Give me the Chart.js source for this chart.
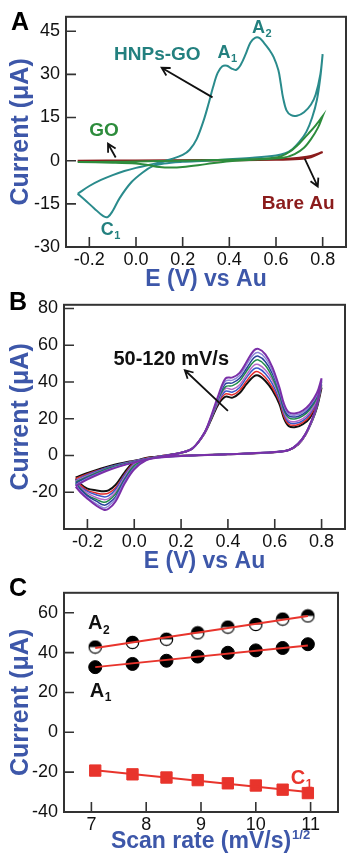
<!DOCTYPE html>
<html>
<head>
<meta charset="utf-8">
<script src="https://cdn.jsdelivr.net/npm/chart.js@4.4.1/dist/chart.umd.min.js"></script>
<style>
  body { margin: 0; background: #fff; width: 347px; height: 862px; position: relative; overflow: hidden; }
  canvas { position: absolute; left: 0; }
  .tag { position: absolute; font: bold 25px "Liberation Sans", Arial, sans-serif; line-height: 25px; color: #000; }
</style>
</head>
<body>
<canvas id="chartA" width="347" height="296" style="top:0px"></canvas>
<canvas id="chartB" width="347" height="290" style="top:288px"></canvas>
<canvas id="chartC" width="347" height="286" style="top:576px"></canvas>
<div class="tag" style="left:11px;top:9px">A</div>
<div class="tag" style="left:9px;top:289px">B</div>
<div class="tag" style="left:9px;top:575px">C</div>
<script>
// ---- Panel A : CV of bare Au, GO and HNPs-GO ----
const hnpsFwdPot = [-0.25, -0.2, -0.15, -0.1, -0.05, 0.0, 0.05, 0.1, 0.15, 0.2, 0.23, 0.26, 0.29, 0.31, 0.33, 0.35, 0.37, 0.39, 0.41, 0.43, 0.45, 0.47, 0.49, 0.51, 0.53, 0.55, 0.57, 0.59, 0.61, 0.62, 0.63, 0.645, 0.665, 0.69, 0.72, 0.75, 0.77, 0.79, 0.8];
const hnpsFwdCur = [-11.5, -8.8, -6.7, -5.0, -3.6, -2.5, -1.6, -0.6, 0.5, 2.0, 3.8, 7.5, 14, 19.5, 25.5, 30.5, 32.8, 33, 32, 31.6, 33.5, 37, 41, 42.7, 42.6, 40.8, 38.7, 36, 31.5, 27, 22, 17.5, 15.8, 15.6, 16.8, 19.5, 23, 30, 37];
const hnpsRevPot = [0.8, 0.79, 0.775, 0.755, 0.73, 0.70, 0.67, 0.64, 0.6, 0.5, 0.4, 0.3, 0.2, 0.12, 0.07, 0.03, -0.02, -0.07, -0.1, -0.12, -0.14, -0.18, -0.22, -0.25];
const hnpsRevCur = [37, 29, 21, 15, 10, 6.5, 4, 2.6, 1.8, 1.0, 0.5, 0, -0.4, -1.0, -2, -4, -7.5, -13, -17.5, -19.5, -19.3, -16.5, -13.6, -11.5];

const goFwdPot = [-0.25, -0.1, 0.0, 0.2, 0.4, 0.55, 0.62, 0.66, 0.7, 0.74, 0.77, 0.8];
const goFwdCur = [-0.5, -0.4, -0.3, 0, 0.3, 0.7, 1.5, 3.2, 6, 9.5, 12.3, 15.5];
const goRevPot = [0.8, 0.78, 0.75, 0.72, 0.68, 0.63, 0.5, 0.4, 0.3, 0.2, 0.15, 0.1, 0.05, 0.0, -0.1, -0.25];
const goRevCur = [15.5, 11.5, 7.5, 4.5, 2.3, 1.0, 0.3, -0.2, -1.2, -2.2, -2.4, -2.2, -1.5, -1.0, -0.7, -0.5];

const auFwdPot = [-0.25, 0.0, 0.3, 0.55, 0.65, 0.7, 0.75, 0.8];
const auFwdCur = [0, 0.1, 0.2, 0.4, 0.7, 1.0, 1.6, 3.0];
const auRevPot = [0.8, 0.75, 0.7, 0.6, 0.3, -0.25];
const auRevCur = [3.0, 1.2, 0.6, 0.3, 0.1, 0];

const potTicks = [-0.2, 0.0, 0.2, 0.4, 0.6, 0.8];
const curTicksA = [-30, -15, 0, 15, 30, 45];

// ---- Panel B : HNPs-GO at 50-120 mV/s ----
const scanRates = [50, 60, 70, 80, 90, 100, 110, 120];
const potBFwd = [-0.25, -0.2, -0.1, 0.0, 0.1, 0.2, 0.25, 0.3, 0.33, 0.36, 0.39, 0.42, 0.45, 0.48, 0.51, 0.53, 0.56, 0.59, 0.62, 0.64, 0.66, 0.69, 0.72, 0.75, 0.78, 0.8];
const potBRev = [0.8, 0.78, 0.76, 0.73, 0.70, 0.66, 0.6, 0.4, 0.2, 0.1, 0.05, 0.0, -0.04, -0.08, -0.11, -0.13, -0.16, -0.2, -0.23, -0.25];

const cur50Fwd = [-12, -9.5, -5.5, -2.8, -0.5, 1.5, 4, 12, 20, 28, 32, 31.5, 34, 39, 43, 43.5, 40.5, 35.5, 28, 20, 16, 15.5, 17, 20.5, 28, 37];
const cur50Rev = [37, 26, 19, 11, 6, 3, 1.8, 0.7, -0.2, -0.8, -1.3, -3.5, -9, -16, -19, -19.5, -19, -18, -15.5, -12.5];
const cur60Fwd = [-12.5, -10, -6, -3, -0.5, 1.5, 4, 12, 20.5, 29, 33.5, 33, 35.5, 40.5, 45, 45.5, 42.5, 37, 29.5, 21, 17, 16.5, 18, 21.5, 29, 38];
const cur60Rev = [38, 26.5, 19, 11, 6, 3, 1.8, 0.7, -0.2, -0.9, -1.5, -4, -10, -17.5, -20.5, -21, -20.5, -19, -16, -13];
const cur70Fwd = [-13.5, -10.5, -6, -3, -0.6, 1.5, 4, 12, 20.5, 29.5, 35, 34.5, 37, 42.5, 47, 47.5, 44.5, 39, 30.5, 22.5, 18, 17.5, 19, 22.5, 30, 38.5];
const cur70Rev = [38.5, 26.5, 19, 11, 6, 3, 1.8, 0.7, -0.2, -0.9, -1.7, -4.5, -10.5, -18.5, -22, -22.5, -21.5, -19.5, -17, -13.5];
const cur80Fwd = [-14, -11, -6.5, -3.2, -0.7, 1.5, 4, 12, 21, 30, 36.5, 36, 38.5, 44, 49, 49.5, 46.5, 41, 32, 23.5, 19, 18.5, 20, 23.5, 30.5, 39];
const cur80Rev = [39, 27, 19, 11, 6, 3, 1.8, 0.7, -0.2, -1, -1.9, -5, -11.5, -20, -23.5, -24, -23, -20.5, -17.5, -14.5];
const cur90Fwd = [-14.5, -11.5, -6.5, -3.4, -0.8, 1.5, 4, 12.5, 21, 31, 37.5, 38, 40.5, 46, 51, 52, 49, 42.5, 33, 24.5, 20.5, 20, 21.5, 25, 31.5, 40];
const cur90Rev = [40, 27, 19.5, 11.5, 6.5, 3, 1.9, 0.7, -0.3, -1, -2.1, -5.5, -12.5, -21, -24.5, -25.5, -24, -21.5, -18, -15];
const cur100Fwd = [-15, -12, -7, -3.5, -0.9, 1.5, 4, 12.5, 21.5, 31.5, 39, 39.5, 42, 47.5, 53, 54, 51, 44.5, 34.5, 25.5, 21.5, 21, 22.5, 26, 32.5, 40.5];
const cur100Rev = [40.5, 27.5, 19.5, 11.5, 6.5, 3, 1.9, 0.7, -0.3, -1.1, -2.3, -6.5, -13, -22.5, -26, -27, -25, -22, -18.5, -15.5];
const cur110Fwd = [-16, -12.5, -7.2, -3.7, -1, 1.5, 4, 12.5, 21.5, 32, 40.5, 41, 43.5, 49.5, 55, 56, 53, 46, 35.5, 27, 22.5, 22, 23.5, 27, 33, 41];
const cur110Rev = [41, 28, 19.5, 11.5, 6.5, 3, 1.9, 0.7, -0.3, -1.2, -2.5, -7, -14, -23.5, -27.5, -28.5, -26.5, -23, -19.5, -16];
const cur120Fwd = [-16.5, -13, -7.5, -3.8, -1, 1.5, 4, 12.5, 22, 33, 42, 42.5, 45, 51, 57, 58, 55, 48, 37, 28, 23.5, 23, 24.5, 28, 34, 42];
const cur120Rev = [42, 28, 20, 11.5, 6.5, 3, 1.9, 0.7, -0.3, -1.2, -2.7, -7.5, -15, -25, -29, -29.5, -27.5, -23.5, -20, -17];

const curTicksB = [-20, 0, 20, 40, 60, 80];

// ---- Panel C : peak current vs sqrt(scan rate) ----
const rootRate = [7.07, 7.75, 8.37, 8.94, 9.49, 10.0, 10.49, 10.95];
const peakA2 = [42.8, 45.1, 46.7, 49.9, 52.8, 54.1, 56.8, 58.4];
const peakA1 = [32.7, 34.3, 35.9, 38.0, 39.9, 41.1, 42.3, 44.2];
const peakC1 = [-19.2, -21.1, -22.7, -24.0, -25.6, -26.7, -28.8, -30.5];
const fitRate = [7.07, 10.95];
const fitA2 = [42.3, 58.4];
const fitA1 = [32.7, 43.5];
const fitC1 = [-19.0, -30.0];

const rateTicks = [7, 8, 9, 10, 11];
const curTicksC = [-40, -20, 0, 20, 40, 60];

const FONT = '"Liberation Sans", Arial, Helvetica, sans-serif';
const AXIS_BLUE = '#3d57a9';
const TEAL = '#2a8b8c';

Chart.defaults.font.family = FONT;
Chart.defaults.color = '#111';

function toPoints(pots, curs) {
    return pots.map((p, i) => ({ x: p, y: curs[i] }));
}

function sweep(fwdPot, fwdCur, revPot, revCur) {
    return toPoints(fwdPot.concat(revPot), fwdCur.concat(revCur));
}

// cadre + graduations vers l'intérieur
const framePlugin = {
    id: 'frame',
    beforeDatasetsDraw(chart) {
        const { ctx, chartArea: a, scales } = chart;
        ctx.save();
        ctx.strokeStyle = '#333';
        ctx.lineWidth = 2;
        ctx.strokeRect(a.left, a.top, a.right - a.left, a.bottom - a.top);
        ctx.lineWidth = 1.6;
        ctx.beginPath();
        scales.x.ticks.forEach(t => {
            const px = scales.x.getPixelForValue(t.value);
            ctx.moveTo(px, a.bottom);
            ctx.lineTo(px, a.bottom - 10);
        });
        scales.y.ticks.forEach(t => {
            const py = scales.y.getPixelForValue(t.value);
            ctx.moveTo(a.left, py);
            ctx.lineTo(a.left + 10, py);
        });
        ctx.stroke();
        ctx.restore();
    }
};

// étiquettes, flèches et exposant du titre
const notesPlugin = {
    id: 'notes',
    afterDatasetsDraw(chart, args, opts) {
        const { ctx, scales: { x, y } } = chart;
        ctx.save();
        (opts.arrows || []).forEach(a => {
            const x1 = x.getPixelForValue(a.x1), y1 = y.getPixelForValue(a.y1);
            const x2 = x.getPixelForValue(a.x2), y2 = y.getPixelForValue(a.y2);
            const ang = Math.atan2(y2 - y1, x2 - x1);
            ctx.strokeStyle = '#111';
            ctx.lineWidth = 1.8;
            ctx.beginPath();
            ctx.moveTo(x1, y1);
            ctx.lineTo(x2, y2);
            ctx.moveTo(x2 - 9 * Math.cos(ang - 0.5), y2 - 9 * Math.sin(ang - 0.5));
            ctx.lineTo(x2, y2);
            ctx.lineTo(x2 - 9 * Math.cos(ang + 0.5), y2 - 9 * Math.sin(ang + 0.5));
            ctx.stroke();
        });
        (opts.labels || []).forEach(l => {
            const px = x.getPixelForValue(l.x), py = y.getPixelForValue(l.y);
            ctx.fillStyle = l.color;
            ctx.textAlign = 'left';
            ctx.textBaseline = 'middle';
            ctx.font = 'bold ' + l.size + 'px ' + FONT;
            ctx.fillText(l.text, px, py);
            if (l.sub) {
                const w = ctx.measureText(l.text).width;
                ctx.font = 'bold ' + Math.round(l.size * 0.62) + 'px ' + FONT;
                ctx.fillText(l.sub, px + w + 0.5, py + l.size * 0.34);
            }
        });
        if (opts.titleSup) {
            const t = x.options.title;
            ctx.font = 'bold 23px ' + FONT;
            const w = ctx.measureText(t.text).width;
            const cx = (x.left + x.right) / 2;
            const cy = x.bottom - opts.titlePad - 13.8;
            ctx.fillStyle = AXIS_BLUE;
            ctx.textAlign = 'left';
            ctx.textBaseline = 'middle';
            ctx.font = 'bold 13px ' + FONT;
            ctx.fillText(opts.titleSup, cx + w / 2 + 1, cy - 6);
        }
        ctx.restore();
    }
};

function buildScales(p) {
    return {
        x: {
            type: 'linear', min: p.xMin, max: p.xMax,
            afterBuildTicks: s => { s.ticks = p.xTicks.map(v => ({ value: v })); },
            afterFit: s => { s.height = p.xAxisH; },
            grid: { display: false, drawTicks: false },
            border: { display: false },
            ticks: { padding: 2, autoSkip: false, maxRotation: 0, font: { size: 18 }, color: '#111',
                     callback: v => v.toFixed(p.xDec) },
            title: { display: true, text: p.xTitle, color: AXIS_BLUE, font: { size: 23, weight: 'bold' },
                     padding: { top: 0, bottom: p.xTitlePad } }
        },
        y: {
            type: 'linear', min: p.yMin, max: p.yMax,
            afterBuildTicks: s => { s.ticks = p.yTicks.map(v => ({ value: v })); },
            afterFit: s => { s.width = p.plotLeft; },
            grid: { display: false, drawTicks: false },
            border: { display: false },
            ticks: { padding: 6, autoSkip: false, font: { size: 18 }, color: '#111', callback: v => String(v) },
            title: { display: true, text: 'Current (\u03BCA)', color: AXIS_BLUE, font: { size: 25, weight: 'bold' },
                     padding: { top: 6, bottom: 0 } }
        }
    };
}

function makeChart(id, datasets, scaleParams, padding, notes) {
    return new Chart(document.getElementById(id), {
        type: 'scatter',
        data: { datasets: datasets },
        options: {
            responsive: false,
            animation: false,
            devicePixelRatio: 1,
            layout: { padding: padding },
            scales: buildScales(scaleParams),
            plugins: { legend: { display: false }, tooltip: { enabled: false }, notes: notes }
        },
        plugins: [framePlugin, notesPlugin]
    });
}

function cvLine(points, color, width) {
    return { data: points, showLine: true, borderColor: color, borderWidth: width, pointRadius: 0, tension: 0.35, fill: false };
}

function halfFilledCircle() {
    const c = document.createElement('canvas');
    c.width = 15; c.height = 15;
    const g = c.getContext('2d');
    g.fillStyle = '#fff';
    g.beginPath(); g.arc(7.5, 7.5, 6.2, 0, 2 * Math.PI); g.fill();
    g.fillStyle = '#000';
    g.beginPath(); g.arc(7.5, 7.5, 6.2, Math.PI, 2 * Math.PI); g.closePath(); g.fill();
    g.strokeStyle = '#000'; g.lineWidth = 1.2;
    g.beginPath(); g.arc(7.5, 7.5, 6.2, 0, 2 * Math.PI); g.stroke();
    return c;
}

document.addEventListener('DOMContentLoaded', () => {
    // Panel A
    makeChart('chartA', [
        cvLine(sweep(goFwdPot, goFwdCur, goRevPot, goRevCur), '#2d8c3c', 2),
        cvLine(sweep(hnpsFwdPot, hnpsFwdCur, hnpsRevPot, hnpsRevCur), TEAL, 2),
        cvLine(sweep(auFwdPot, auFwdCur, auRevPot, auRevCur), '#8b1c1c', 2)
    ], {
        xMin: -0.3, xMax: 0.9, xTicks: potTicks, xDec: 1, xTitle: 'E (V) vs Au', xTitlePad: 3, xAxisH: 49,
        yMin: -30, yMax: 50, yTicks: curTicksA, plotLeft: 66
    }, { top: 14, right: 1, left: 0, bottom: 0 }, {
        labels: [
            { text: 'HNPs-GO', x: -0.094, y: 36.9, color: '#23807f', size: 19 },
            { text: 'A', sub: '1', x: 0.349, y: 37.5, color: '#23807f', size: 18 },
            { text: 'A', sub: '2', x: 0.497, y: 46.1, color: '#23807f', size: 18 },
            { text: 'GO', x: -0.2, y: 10.3, color: '#2d8c3c', size: 19 },
            { text: 'Bare Au', x: 0.539, y: -15.1, color: '#8b1c1c', size: 19 },
            { text: 'C', sub: '1', x: -0.151, y: -24, color: '#23807f', size: 18 }
        ],
        arrows: [
            { x1: 0.328, y1: 22, x2: 0.11, y2: 32.3 },
            { x1: -0.087, y1: 1.1, x2: -0.12, y2: 5.9 },
            { x1: 0.723, y1: 0.7, x2: 0.779, y2: -9 }
        ]
    });

    // Panel B (la dernière courbe tracée en dessous)
    const bColors = ['#111111', '#e42b2b', '#3a56c8', '#b668c8', '#1f8a4a', '#27409a', '#8c86d8', '#7a2fa8'];
    const bFwd = [cur50Fwd, cur60Fwd, cur70Fwd, cur80Fwd, cur90Fwd, cur100Fwd, cur110Fwd, cur120Fwd];
    const bRev = [cur50Rev, cur60Rev, cur70Rev, cur80Rev, cur90Rev, cur100Rev, cur110Rev, cur120Rev];
    const bSets = scanRates.map((r, i) => cvLine(sweep(potBFwd, bFwd[i], potBRev, bRev[i]), bColors[i], i === 0 || i === 7 ? 2 : 1.5)).reverse();
    makeChart('chartB', bSets, {
        xMin: -0.3, xMax: 0.9, xTicks: potTicks, xDec: 1, xTitle: 'E (V) vs Au', xTitlePad: 2.5, xAxisH: 49,
        yMin: -40, yMax: 82, yTicks: curTicksB, plotLeft: 64
    }, { top: 6, right: 2, left: 0, bottom: 0 }, {
        labels: [{ text: '50-120 mV/s', x: -0.089, y: 52, color: '#111', size: 20 }],
        arrows: [{ x1: 0.4, y1: 24.3, x2: 0.216, y2: 46.4 }]
    });

    // Panel C
    const red = '#e8342c';
    makeChart('chartC', [
        { data: toPoints(fitRate, fitA2), showLine: true, borderColor: red, borderWidth: 2, pointRadius: 0, order: 0 },
        { data: toPoints(fitRate, fitA1), showLine: true, borderColor: red, borderWidth: 2, pointRadius: 0, order: 0 },
        { data: toPoints(fitRate, fitC1), showLine: true, borderColor: red, borderWidth: 2, pointRadius: 0, order: 0 },
        { data: toPoints(rootRate, peakA2), pointStyle: halfFilledCircle(), pointRadius: 7, order: 1 },
        { data: toPoints(rootRate, peakA1), pointStyle: 'circle', pointRadius: 6.5, backgroundColor: '#000', borderColor: '#000', order: 1 },
        { data: toPoints(rootRate, peakC1), pointStyle: 'rect', pointRadius: 8, backgroundColor: red, borderColor: red, order: 1 }
    ], {
        xMin: 6.5, xMax: 11.5, xTicks: rateTicks, xDec: 0, xTitle: 'Scan rate (mV/s)', xTitlePad: 6.5, xAxisH: 50,
        yMin: -40, yMax: 70, yTicks: curTicksC, plotLeft: 64
    }, { top: 8, right: 2, left: 0, bottom: 0 }, {
        labels: [
            { text: 'A', sub: '2', x: 6.94, y: 54.4, color: '#111', size: 20 },
            { text: 'A', sub: '1', x: 6.97, y: 20.6, color: '#111', size: 20 },
            { text: 'C', sub: '1', x: 10.64, y: -23.1, color: red, size: 20 }
        ],
        titleSup: '1/2', titlePad: 6.5
    });
});
</script>
</body>
</html>
